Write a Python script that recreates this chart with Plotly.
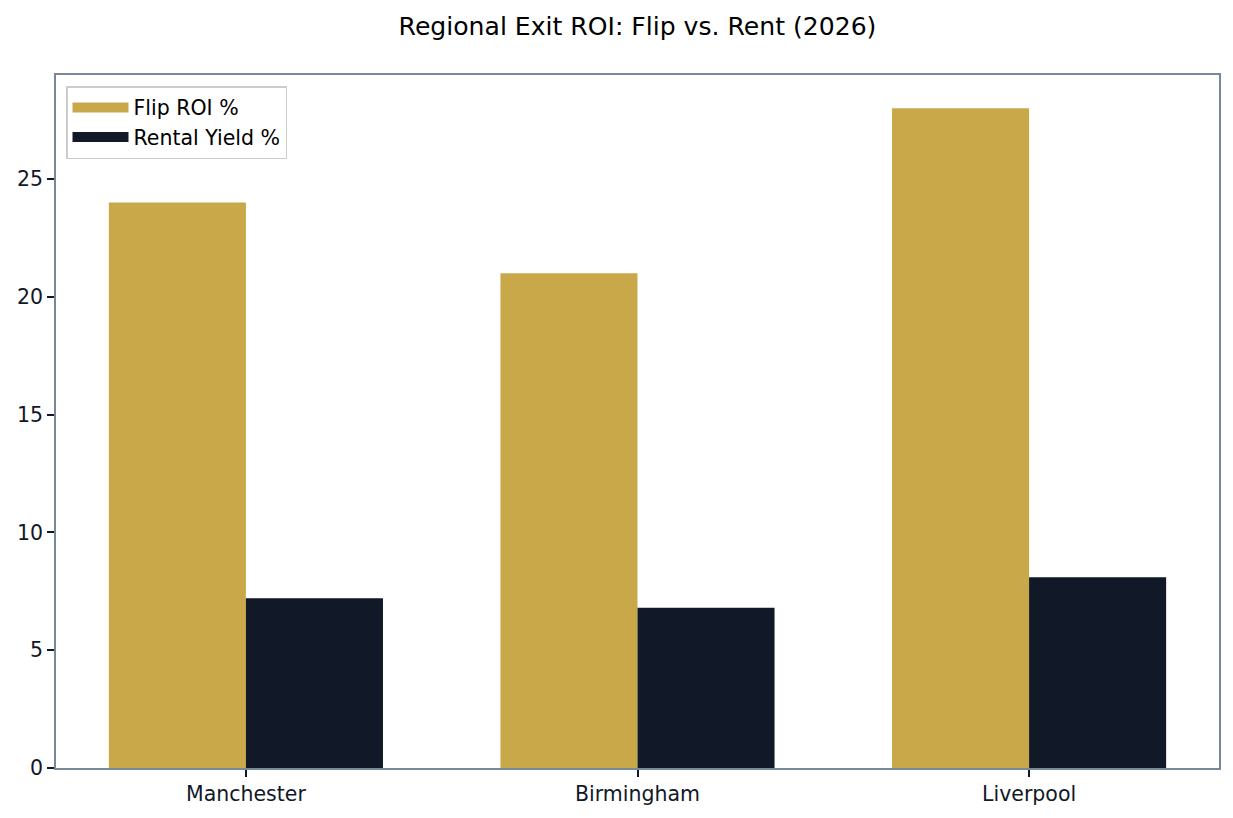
import plotly.graph_objects as go

regions = ["Manchester", "Birmingham", "Liverpool"]
flip_roi = [24.0, 21.0, 28.0]
rental_yield = [7.2, 6.8, 8.1]
y_ticks = [0, 5, 10, 15, 20, 25]
series_names = ["Flip ROI %", "Rental Yield %"]

GOLD = "#C9A84A"
NAVY = "#111827"
FRAME = "#778899"
FONT = "DejaVu Sans"
TICK_SIZE = 20.5

fig = go.Figure()
fig.add_trace(go.Bar(x=regions, y=flip_roi, name=series_names[0], marker=dict(color=GOLD, line=dict(width=0)),
                     offset=-0.35, width=0.35, showlegend=False, legendgroup="flip"))
fig.add_trace(go.Bar(x=regions, y=rental_yield, name=series_names[1], marker=dict(color=NAVY, line=dict(width=0)),
                     offset=0.0, width=0.35, showlegend=False, legendgroup="rent"))
# legend swatches (wide rectangles like the reference)
for nm, col, grp in [(series_names[0], GOLD, "flip"), (series_names[1], NAVY, "rent")]:
    fig.add_trace(go.Scatter(x=[None], y=[None], mode="lines", name=nm, legendgroup=grp,
                             line=dict(color=col, width=13), hoverinfo="skip"))

fig.update_layout(
    width=1233, height=818,
    margin=dict(l=56, r=14, t=75, b=50),
    paper_bgcolor="white", plot_bgcolor="white",
    font=dict(family=FONT, size=TICK_SIZE, color=NAVY),
    title=dict(text="Regional Exit ROI: Flip vs. Rent (2026)", x=(56 + 1219) / 2 / 1233, xanchor="center",
               y=1 - 26 / 818, yanchor="middle", font=dict(family=FONT, size=25.1, color="black")),
    barmode="group", bargap=0.3, bargroupgap=0,
    showlegend=True,
    legend=dict(x=0.0086, y=0.984, xanchor="left", yanchor="top", bgcolor="white",
                bordercolor="#CCCCCC", borderwidth=1.5, font=dict(family=FONT, size=TICK_SIZE, color="black"),
                traceorder="normal", itemwidth=56, tracegroupgap=0),
)
fig.update_xaxes(range=[-0.485, 2.485], showline=True, mirror=True, linecolor=FRAME, linewidth=1.6,
                 ticks="outside", ticklen=7, tickwidth=1.6, tickcolor=NAVY, showgrid=False,
                 tickfont=dict(family=FONT, size=TICK_SIZE, color=NAVY))
fig.update_yaxes(range=[0, 29.41], tickvals=y_ticks, showline=True, mirror=True, linecolor=FRAME, linewidth=1.6,
                 ticks="outside", ticklen=7, tickwidth=1.6, tickcolor=NAVY, showgrid=False, zeroline=False,
                 tickfont=dict(family=FONT, size=TICK_SIZE, color=NAVY))

fig.write_html("out.html")
